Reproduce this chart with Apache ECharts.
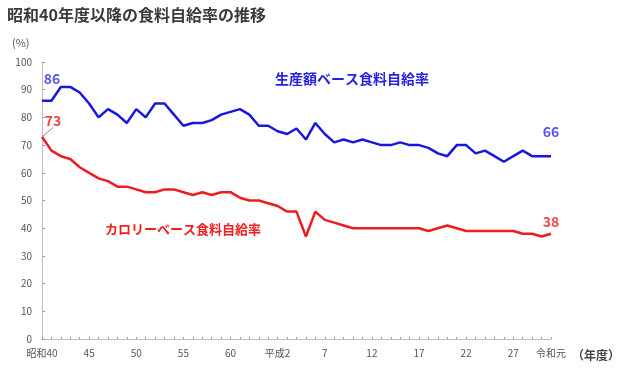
<!DOCTYPE html>
<html><head><meta charset="utf-8">
<script src="https://cdn.jsdelivr.net/npm/echarts@6/dist/echarts.min.js"></script>
<style>html,body{margin:0;padding:0;background:#fff}#c{width:622px;height:373px}</style>
</head><body><div id="c"></div>
<script>
const categories = ['昭和40','41','42','43','44','45','46','47','48','49','50','51','52','53','54','55','56','57','58','59','60','61','62','63','平成元',
 '平成2','3','4','5','6','7','8','9','10','11','12','13','14','15','16','17','18','19','20','21','22','23','24','25','26','27','28','29','30','令和元'];
const shownLabels = ['昭和40','45','50','55','60','平成2','7','12','17','22','27','令和元'];
const productionValue = [86,86,91,91,89,85,80,83,81,78,83,80,85,85,81,77,78,78,79,81,82,83,81,77,77,
 75,74,76,72,78,74,71,72,71,72,71,70,70,71,70,70,69,67,66,70,70,67,68,66,64,66,68,66,66,66];
const calorie = [73,68,66,65,62,60,58,57,55,55,54,53,53,54,54,53,52,53,52,53,53,51,50,50,49,
 48,46,46,37,46,43,42,41,40,40,40,40,40,40,40,40,39,40,41,40,39,39,39,39,39,39,38,38,37,38];
const yTicks = {min:0, max:100, interval:10};

const F = '"Noto Sans CJK JP","Noto Sans",sans-serif';
const blue = '#1818dc', red = '#ee1c1c';
const last = categories.length - 1;

function mk(arr, firstOff, lastOff, labelColor, leader) {
  return arr.map((v, i) => {
    if (i === 0 || i === last) {
      const item = {value: v, label: {show: true, position: 'top',
        offset: i === 0 ? firstOff : lastOff, color: labelColor, fontSize: 14, fontWeight: 'bold', fontFamily: F},
        labelLine: {show: false}};
      if (i === 0 && leader) item.labelLine = {show: true, lineStyle: {color: '#8a8a8a', width: 1}};
      return item;
    }
    return v;
  });
}

const chart = echarts.init(document.getElementById('c'), null, {renderer: 'canvas'});
chart.setOption({
  animation: false,
  grid: {left: 42, right: 71, top: 62, bottom: 34, containLabel: false},
  title: {text: '昭和40年度以降の食料自給率の推移', left: 2, top: 2,
    textStyle: {fontSize: 16, fontWeight: 'bold', color: '#3a3a3a', fontFamily: F}},
  xAxis: {
    type: 'category', data: categories, boundaryGap: false,
    axisLine: {lineStyle: {color: '#bdbdbd', width: 1}},
    axisTick: {show: true, inside: true, length: 2, interval: 0, lineStyle: {color: '#9a9a9a'}},
    axisLabel: {interval: (i, v) => shownLabels.indexOf(v) >= 0 && (i % 5 === 0 || i === last),
      color: '#555', fontSize: 10, fontFamily: F, margin: 9}
  },
  yAxis: {
    type: 'value', min: yTicks.min, max: yTicks.max, interval: yTicks.interval,
    splitLine: {show: false},
    axisLine: {show: true, lineStyle: {color: '#bdbdbd', width: 1}},
    axisTick: {show: true, inside: true, length: 3, lineStyle: {color: '#9a9a9a'}},
    axisLabel: {color: '#555', fontSize: 10, fontFamily: F, margin: 10}
  },
  graphic: [
    {type: 'text', left: 12, top: 37, style: {text: '(%)', fontSize: 11, fill: '#555', fontFamily: F}},
    {type: 'text', left: 572, top: 349, style: {text: '（年度）', fontSize: 12, fill: '#444', fontFamily: F, fontWeight: 'bold'}},
    {type: 'text', left: 275, top: 72, style: {text: '生産額ベース食料自給率', fontSize: 14, fill: '#2424e0', fontFamily: F, fontWeight: 'bold'}},
    {type: 'text', left: 105, top: 223, style: {text: 'カロリーベース食料自給率', fontSize: 13, fill: '#ee2020', fontFamily: F, fontWeight: 'bold'}}
  ],
  series: [
    {type: 'line', name: '生産額ベース', data: mk(productionValue, [10, -10], [0, -12], '#5858e8', false),
      symbol: 'circle', symbolSize: 0.01, showSymbol: true, showAllSymbol: true,
      lineStyle: {color: blue, width: 2.5}, itemStyle: {color: blue}},
    {type: 'line', name: 'カロリーベース', data: mk(calorie, [0, 0], [0, -1], '#f04848', true),
      symbol: 'circle', symbolSize: 0.01, showSymbol: true, showAllSymbol: true,
      lineStyle: {color: red, width: 2.5}, itemStyle: {color: red},
      labelLayout: p => p.dataIndex === 0 ? {dx: 11, dy: -4} : {}}
  ]
});
</script></body></html>
